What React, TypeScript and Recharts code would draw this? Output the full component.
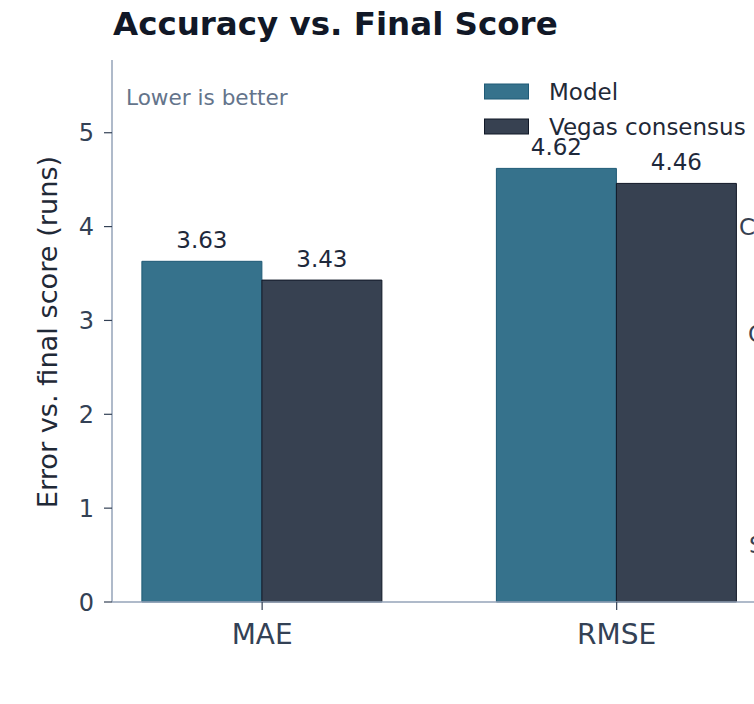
import React from "react";
import { BarChart, Bar, XAxis, YAxis, LabelList, Legend } from "recharts";

const categories = ["MAE", "RMSE"];
const modelValues = [3.63, 4.62];
const vegasValues = [3.43, 4.46];
const yTicks = [0, 1, 2, 3, 4, 5];
const seriesNames = ["Model", "Vegas consensus"];

const data = categories.map((c, i) => ({
  x: i,
  name: c,
  model: modelValues[i],
  vegas: vegasValues[i],
}));

const FONT = "'DejaVu Sans', sans-serif";
const TEAL = "#36728c";
const TEAL_EDGE = "#1f5a76";
const DARK = "#374151";
const DARK_EDGE = "#111827";

const renderLegend = (props: any) => {
  const payload = props.payload || [];
  return (
    <svg width={300} height={72} style={{ display: "block", overflow: "visible" }}>
      {payload.map((p: any, i: number) => {
        const cy = 15.5 + i * 35;
        const isModel = i === 0;
        return (
          <g key={i}>
            <rect
              x={0.5}
              y={cy - 7.5}
              width={44}
              height={15}
              fill={isModel ? TEAL : DARK}
              stroke={isModel ? TEAL_EDGE : DARK_EDGE}
              strokeWidth={1}
            />
            <text
              x={65}
              y={cy}
              dominantBaseline="central"
              fontFamily={FONT}
              fontSize={23}
              fill="#1f2937"
            >
              {p.value}
            </text>
          </g>
        );
      })}
    </svg>
  );
};

const renderYLabel = () => (
  <text
    x={57}
    y={332}
    transform="rotate(-90, 57, 332)"
    textAnchor="middle"
    fontFamily={FONT}
    fontSize={27.2}
    fill="#1f2937"
  >
    Error vs. final score (runs)
  </text>
);

export default function App() {
  return (
    <div
      style={{
        position: "fixed",
        left: 0,
        top: 0,
        width: 754,
        height: 704,
        overflow: "hidden",
        background: "#ffffff",
        fontFamily: FONT,
      }}
    >
      <BarChart
        width={800}
        height={704}
        data={data}
        margin={{ top: 60, right: 33.2, left: 0, bottom: 0 }}
        barGap={0}
      >
        <XAxis
          dataKey="x"
          type="number"
          scale="linear"
          domain={[-0.4235, 1.4235]}
          ticks={[0, 1]}
          tickFormatter={(v: number) => categories[v] ?? ""}
          height={102}
          tickSize={8}
          tickMargin={14}
          axisLine={{ stroke: "#94a3b8", strokeWidth: 1.5 }}
          tickLine={{ stroke: "#334155", strokeWidth: 1.2 }}
          tick={{ fontSize: 28, fill: "#334155", fontFamily: FONT }}
          interval={0}
        />
        <YAxis
          type="number"
          domain={[0, 5.775]}
          ticks={yTicks}
          width={112}
          tickSize={8}
          tickMargin={10}
          axisLine={{ stroke: "#94a3b8", strokeWidth: 1.5 }}
          tickLine={{ stroke: "#334155", strokeWidth: 1.2 }}
          tick={{ fontSize: 24, fill: "#334155", fontFamily: FONT }}
          label={{ content: renderYLabel }}
        />
        <Legend
          content={renderLegend}
          layout="vertical"
          align="center"
          verticalAlign="middle"
          wrapperStyle={{ left: 484, top: 76, width: 300 }}
        />
        <Bar
          dataKey="model"
          name={seriesNames[0]}
          fill={TEAL}
          stroke={TEAL_EDGE}
          strokeWidth={1}
          barSize={120}
          isAnimationActive={false}
        >
          <LabelList
            dataKey="model"
            position="top"
            offset={13}
            formatter={(v: any) => Number(v).toFixed(2)}
            style={{ fontSize: 23, fill: "#1e293b", fontFamily: FONT }}
          />
        </Bar>
        <Bar
          dataKey="vegas"
          name={seriesNames[1]}
          fill={DARK}
          stroke={DARK_EDGE}
          strokeWidth={1}
          barSize={120}
          isAnimationActive={false}
        >
          <LabelList
            dataKey="vegas"
            position="top"
            offset={13}
            formatter={(v: any) => Number(v).toFixed(2)}
            style={{ fontSize: 23, fill: "#1e293b", fontFamily: FONT }}
          />
        </Bar>
      </BarChart>
      <svg
        width={754}
        height={704}
        style={{ position: "absolute", left: 0, top: 0, pointerEvents: "none" }}
      >
        <text x={113} y={35} fontFamily={FONT} fontSize={32.5} fontWeight="bold" fill="#111827">
          Accuracy vs. Final Score
        </text>
        <text x={126} y={105} fontFamily={FONT} fontSize={21.6} fill="#64748b">
          Lower is better
        </text>
        <text x={739} y={235} fontFamily={FONT} fontSize={23} fill="#374151">
          C
        </text>
        <text x={748} y={342} fontFamily={FONT} fontSize={23} fill="#374151">
          C
        </text>
        <text x={749} y={553} fontFamily={FONT} fontSize={23} fill="#374151">
          S
        </text>
      </svg>
    </div>
  );
}
